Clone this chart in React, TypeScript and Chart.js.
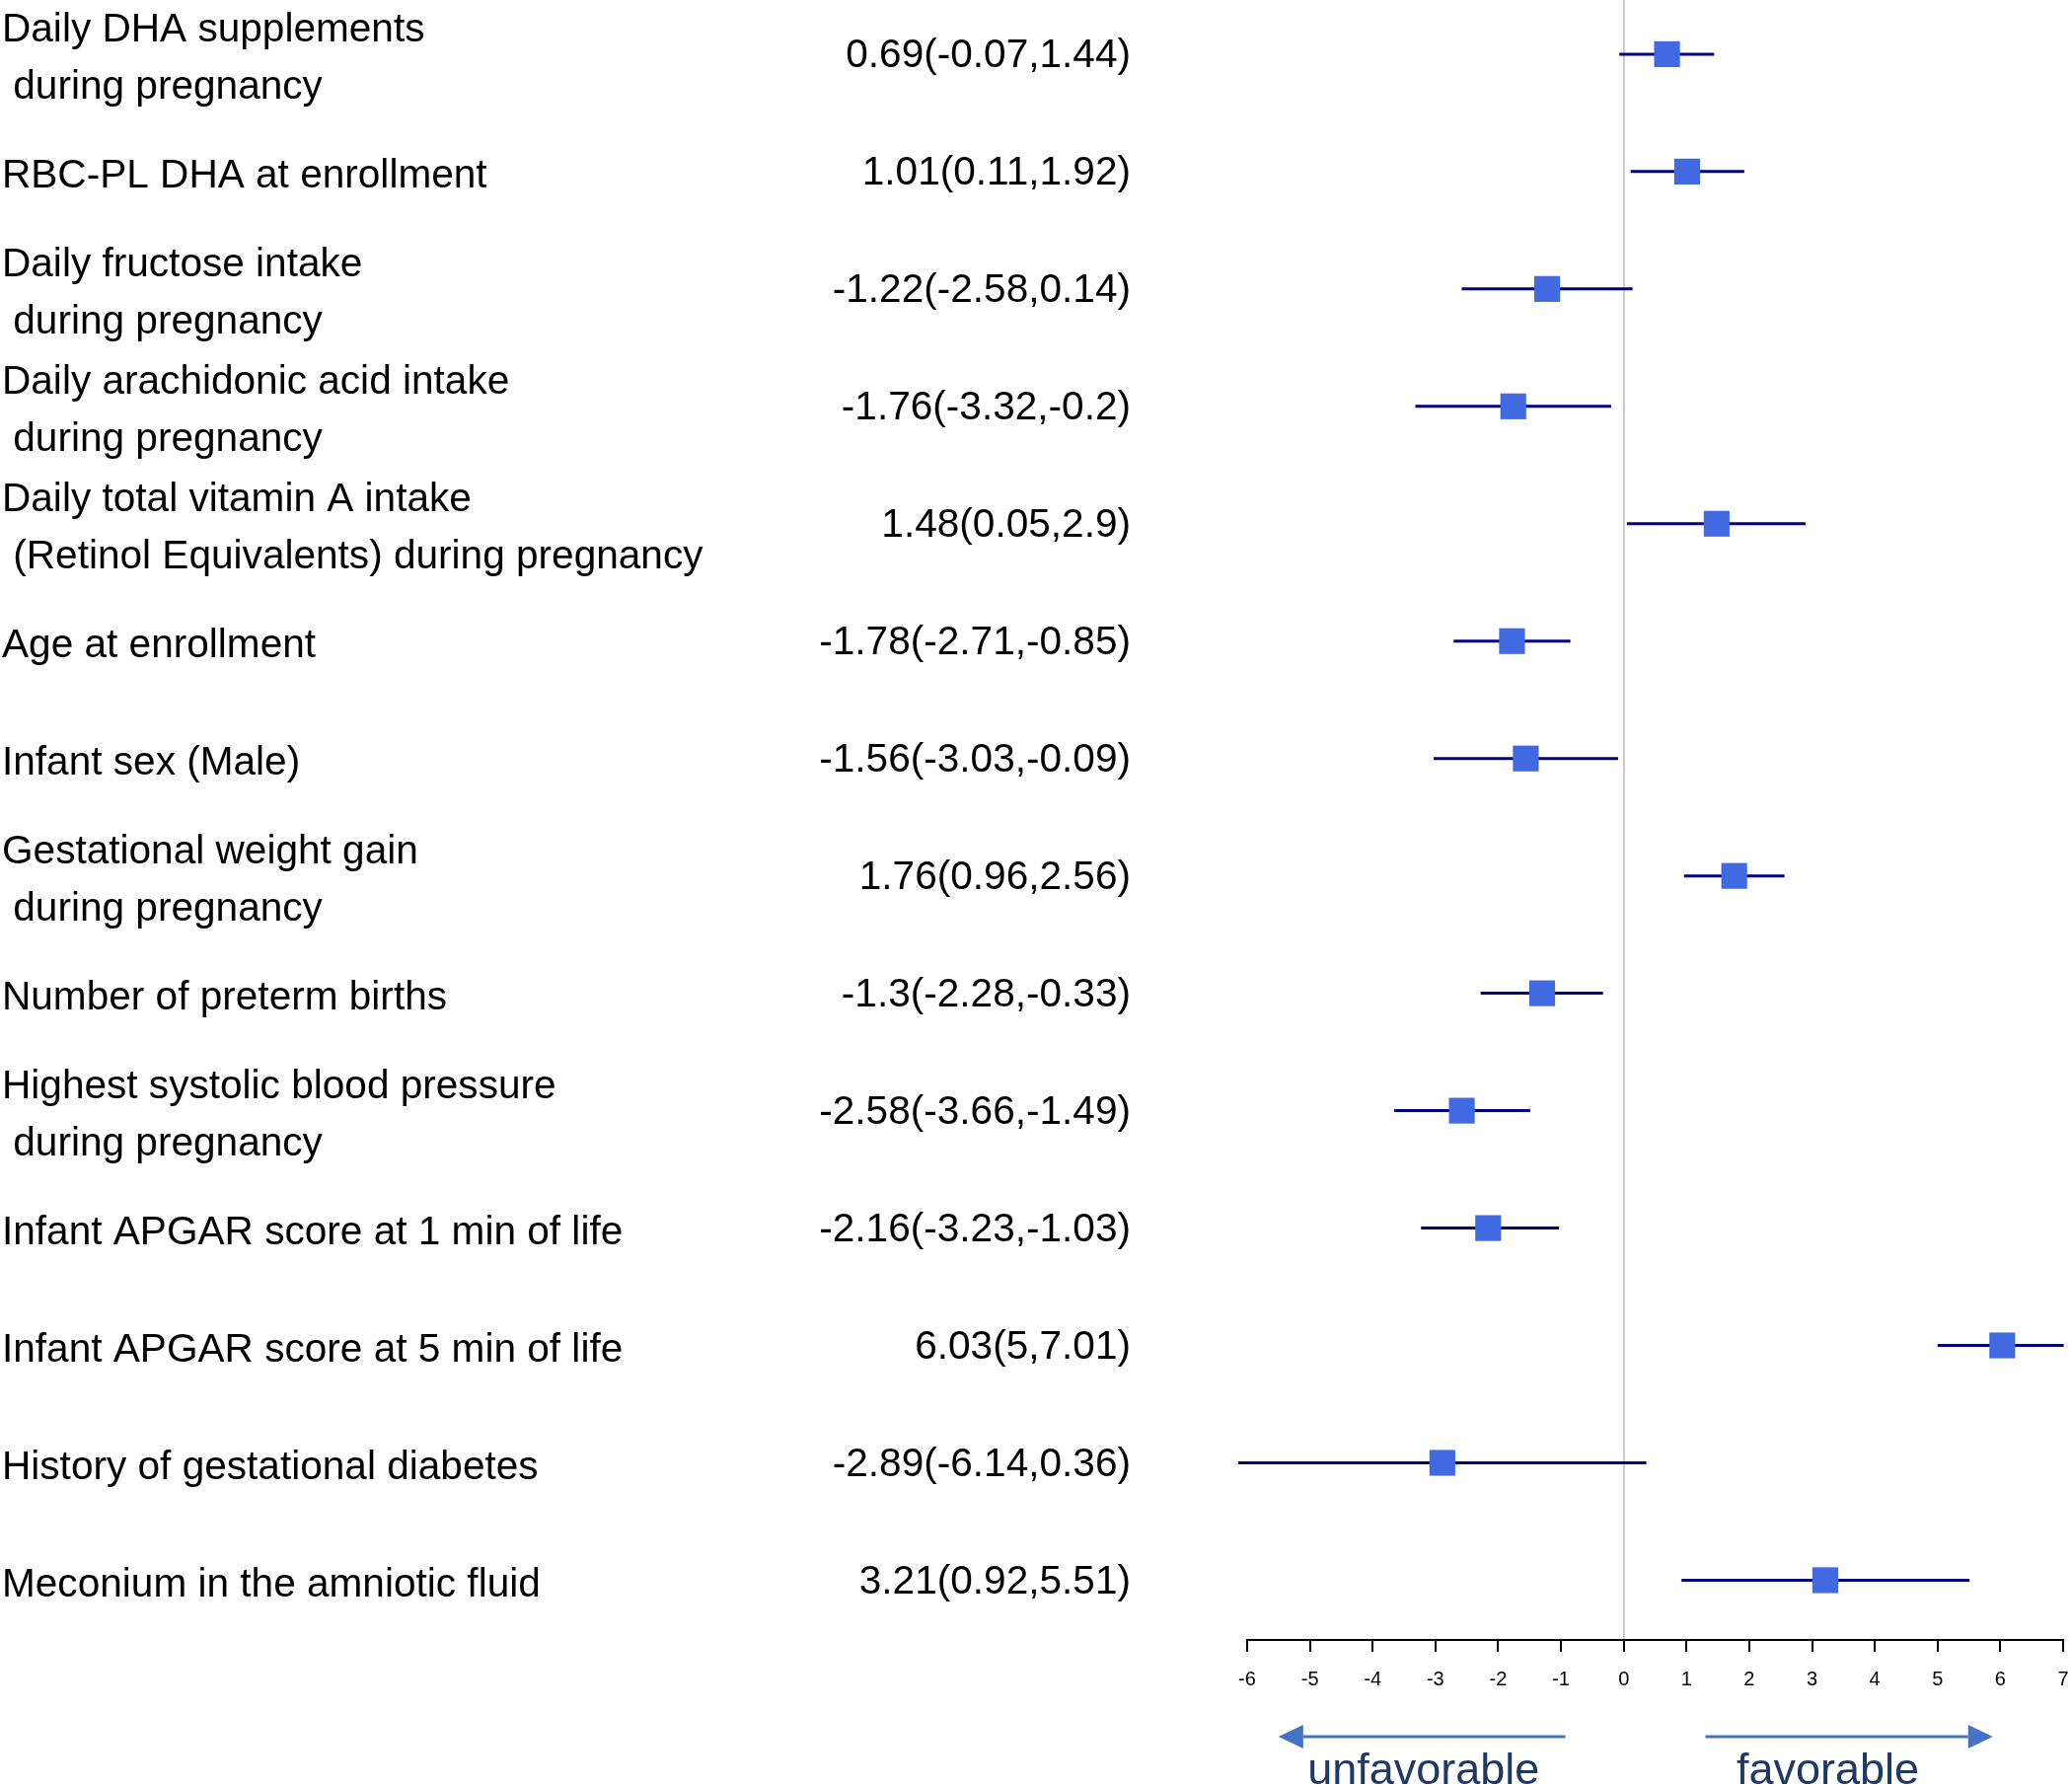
import React, { useEffect, useRef } from 'react';
import { Chart, registerables } from 'chart.js';

Chart.register(...registerables);

const FONT = '"Liberation Sans", Arial, sans-serif';

const labels: string[][] = [
  ['Daily DHA supplements', ' during pregnancy'],
  ['RBC-PL DHA at enrollment'],
  ['Daily fructose intake', ' during pregnancy'],
  ['Daily arachidonic acid intake', ' during pregnancy'],
  ['Daily total vitamin A intake', ' (Retinol Equivalents) during pregnancy'],
  ['Age at enrollment'],
  ['Infant sex (Male)'],
  ['Gestational weight gain', ' during pregnancy'],
  ['Number of preterm births'],
  ['Highest systolic blood pressure', ' during pregnancy'],
  ['Infant APGAR score at 1 min of life'],
  ['Infant APGAR score at 5 min of life'],
  ['History of gestational diabetes'],
  ['Meconium in the amniotic fluid'],
];

const estimates = [0.69, 1.01, -1.22, -1.76, 1.48, -1.78, -1.56, 1.76, -1.3, -2.58, -2.16, 6.03, -2.89, 3.21];
const lower = [-0.07, 0.11, -2.58, -3.32, 0.05, -2.71, -3.03, 0.96, -2.28, -3.66, -3.23, 5, -6.14, 0.92];
const upper = [1.44, 1.92, 0.14, -0.2, 2.9, -0.85, -0.09, 2.56, -0.33, -1.49, -1.03, 7.01, 0.36, 5.51];

const xTicks = [-6, -5, -4, -3, -2, -1, 0, 1, 2, 3, 4, 5, 6, 7];

const arrows = [
  { from: -0.93, to: -5.5 },
  { from: 1.3, to: 5.88 },
];
const sideTexts = [
  { text: 'unfavorable', at: -3.19 },
  { text: 'favorable', at: 3.25 },
];

const rows = labels.map((_, i) => i + 1);
const ciText = estimates.map((e, i) => `${e}(${lower[i]},${upper[i]})`);

const Y_MIN = 0.5385;
const Y_MAX = 14.509;
const LABEL_AXIS_W = 820;
const PLOT_LEFT = 1264;

const arrowPlugin = {
  id: 'arrowPlugin',
  afterDraw(chart: any) {
    const { ctx } = chart;
    const xs = chart.scales.x;
    const yArrow = xs.top + 98;
    const yText = xs.top + 146;
    ctx.save();
    ctx.strokeStyle = '#4472C4';
    ctx.fillStyle = '#4472C4';
    ctx.lineWidth = 3;
    for (const a of arrows) {
      const x0 = xs.getPixelForValue(a.from);
      const x1 = xs.getPixelForValue(a.to);
      const dir = x1 > x0 ? 1 : -1;
      const headLen = 25;
      const headHalf = 12;
      ctx.beginPath();
      ctx.moveTo(x0, yArrow);
      ctx.lineTo(x1 - dir * headLen, yArrow);
      ctx.stroke();
      ctx.beginPath();
      ctx.moveTo(x1, yArrow);
      ctx.lineTo(x1 - dir * headLen, yArrow - headHalf);
      ctx.lineTo(x1 - dir * headLen, yArrow + headHalf);
      ctx.closePath();
      ctx.fill();
    }
    ctx.fillStyle = '#1F3864';
    ctx.font = `45px ${FONT}`;
    ctx.textAlign = 'center';
    ctx.textBaseline = 'alphabetic';
    for (const t of sideTexts) {
      ctx.fillText(t.text, xs.getPixelForValue(t.at), yText);
    }
    ctx.restore();
  },
};

export default function App() {
  const ref = useRef<HTMLCanvasElement | null>(null);

  useEffect(() => {
    if (!ref.current) return;
    const pointData = estimates.map((x, i) => ({ x, y: rows[i] }));
    const ciData: any[] = [];
    rows.forEach((r, i) => {
      ciData.push({ x: lower[i], y: r });
      ciData.push({ x: upper[i], y: r });
      ciData.push({ x: NaN, y: NaN });
    });

    const chart = new Chart(ref.current, {
      type: 'scatter',
      data: {
        datasets: [
          {
            data: pointData,
            yAxisID: 'yv',
            pointStyle: 'rect',
            pointRadius: 18.5,
            pointHoverRadius: 18.5,
            backgroundColor: '#4169E1',
            borderColor: '#4169E1',
            borderWidth: 0,
            clip: false,
          } as any,
          {
            data: ciData,
            yAxisID: 'yv',
            showLine: true,
            spanGaps: false,
            pointRadius: 0,
            pointHoverRadius: 0,
            borderColor: '#000080',
            borderWidth: 3,
            clip: false,
          } as any,
        ],
      },
      options: {
        animation: false,
        responsive: false,
        events: [],
        layout: { autoPadding: false, padding: { left: 2, top: 0, right: 9, bottom: 0 } },
        plugins: { legend: { display: false }, tooltip: { enabled: false } },
        scales: {
          x: {
            type: 'linear',
            position: 'bottom',
            min: -6,
            max: 7,
            afterBuildTicks: (s: any) => {
              s.ticks = xTicks.map((v) => ({ value: v }));
            },
            afterFit: (s: any) => {
              s.height = 148;
              s.paddingLeft = 0;
              s.paddingRight = 0;
            },
            ticks: {
              autoSkip: false,
              maxRotation: 0,
              color: '#000',
              padding: 16,
              font: { family: FONT, size: 20 },
            },
            grid: {
              drawOnChartArea: true,
              color: (c: any) => (c.tick && c.tick.value === 0 ? '#cccccc' : 'rgba(0,0,0,0)'),
              lineWidth: 2,
              tickColor: '#000',
              tickWidth: 2,
              tickLength: 12,
            },
            border: { display: true, color: '#000', width: 2 },
          },
          yl: {
            type: 'linear',
            position: 'left',
            weight: 2,
            min: Y_MIN,
            max: Y_MAX,
            reverse: true,
            afterBuildTicks: (s: any) => {
              s.ticks = rows.map((v) => ({ value: v }));
            },
            afterFit: (s: any) => {
              s.width = LABEL_AXIS_W;
              s.paddingTop = 0;
              s.paddingBottom = 0;
            },
            ticks: {
              autoSkip: false,
              crossAlign: 'far',
              padding: 0,
              labelOffset: 5,
              color: '#000',
              font: { family: FONT, size: 40.6, lineHeight: 1.43 },
              callback: (_v: any, i: number) => labels[i],
            },
            grid: { display: false },
            border: { display: false },
          },
          yv: {
            type: 'linear',
            position: 'left',
            weight: 1,
            min: Y_MIN,
            max: Y_MAX,
            reverse: true,
            afterBuildTicks: (s: any) => {
              s.ticks = rows.map((v) => ({ value: v }));
            },
            afterFit: (s: any) => {
              s.width = PLOT_LEFT - LABEL_AXIS_W - 2;
              s.paddingTop = 0;
              s.paddingBottom = 0;
            },
            ticks: {
              autoSkip: false,
              crossAlign: 'near',
              padding: 110,
              labelOffset: 2,
              color: '#000',
              font: { family: FONT, size: 40.6 },
              callback: (_v: any, i: number) => ciText[i],
            },
            grid: { display: false },
            border: { display: false },
          },
        },
      } as any,
      plugins: [arrowPlugin],
    });
    return () => chart.destroy();
  }, []);

  return (
    <div style={{ position: 'absolute', left: 0, top: 0, width: 2100, height: 1810, background: '#fff' }}>
      <canvas ref={ref} width={2100} height={1810} style={{ width: 2100, height: 1810, display: 'block' }} />
    </div>
  );
}
